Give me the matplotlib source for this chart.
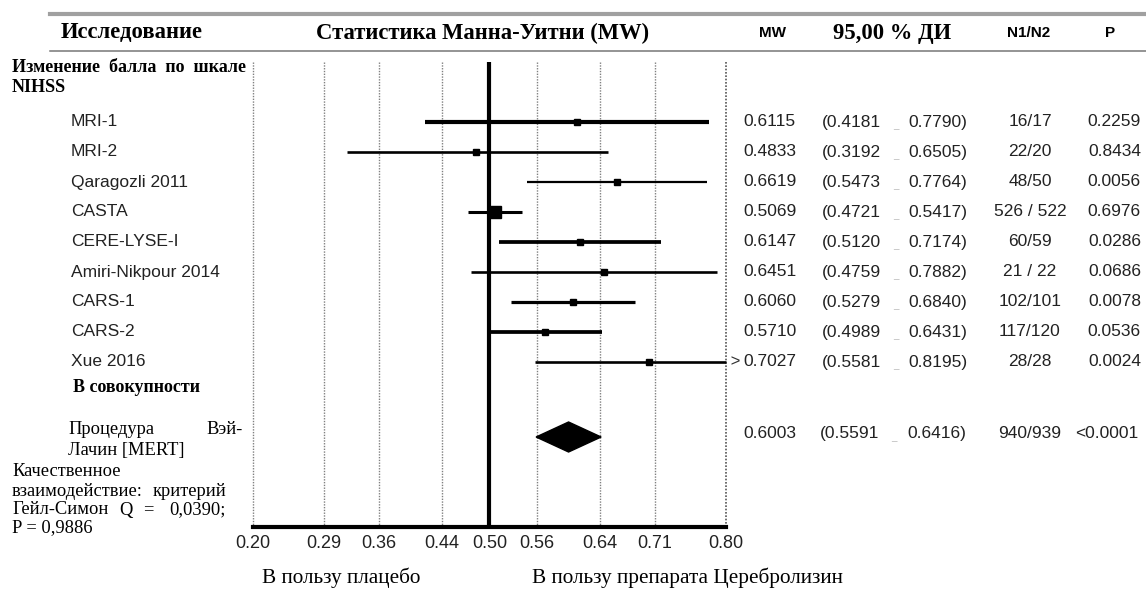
import matplotlib
matplotlib.use("Agg")
import matplotlib.pyplot as plt
from matplotlib import transforms
from matplotlib.patches import Polygon

# --- data ---
studies = ["MRI-1", "MRI-2", "Qaragozli 2011", "CASTA", "CERE-LYSE-I",
           "Amiri-Nikpour 2014", "CARS-1", "CARS-2", "Xue 2016"]
mw = [0.6115, 0.4833, 0.6619, 0.5069, 0.6147, 0.6451, 0.6060, 0.5710, 0.7027]
ci_low = [0.4181, 0.3192, 0.5473, 0.4721, 0.5120, 0.4759, 0.5279, 0.4989, 0.5581]
ci_high = [0.7790, 0.6505, 0.7764, 0.5417, 0.7174, 0.7882, 0.6840, 0.6431, 0.8195]
n1n2 = ["16/17", "22/20", "48/50", "526 / 522", "60/59", "21 / 22", "102/101", "117/120", "28/28"]
pvals = ["0.2259", "0.8434", "0.0056", "0.6976", "0.0286", "0.0686", "0.0078", "0.0536", "0.0024"]
# line width (weight) of each study line, in points
weights = [3.0, 1.9, 1.6, 2.2, 2.7, 1.9, 2.3, 2.7, 1.9]
marker_sizes = [4.5, 4.5, 4.5, 8, 4.5, 4.5, 4.5, 4.5, 4.5]

pooled_mw = 0.6003
pooled_low = 0.5591
pooled_high = 0.6416
pooled_n = "940/939"
pooled_p = "<0.0001"

xticks = [0.20, 0.29, 0.36, 0.44, 0.50, 0.56, 0.64, 0.71, 0.80]
xticklabels = ["0.20", "0.29", "0.36", "0.44", "0.50", "0.56", "0.64", "0.71", "0.80"]

SERIF = "Liberation Serif"
SANS = "Liberation Sans"

W, H = 1146, 592
fig = plt.figure(figsize=(W / 100, H / 100), dpi=100)

# background axes in pixel coordinates (for header, labels)
bg = fig.add_axes([0, 0, 1, 1])
bg.set_xlim(0, W)
bg.set_ylim(H, 0)
bg.axis("off")

# plot axes: x 0.2..0.8 over pixels 253..726, y rows
x0, x1, ytop, ybot = 253, 726, 62, 527
ax = fig.add_axes([x0 / W, (H - ybot) / H, (x1 - x0) / W, (ybot - ytop) / H])
ax.patch.set_alpha(0)
ax.set_xlim(0.2, 0.8)
ax.set_ylim(13.5, -2)
for s in ["top", "right", "left"]:
    ax.spines[s].set_visible(False)
ax.spines["bottom"].set_linewidth(3)
ax.spines["bottom"].set_zorder(6)
ax.set_yticks([])
ax.set_xticks(xticks)
ax.set_xticklabels(xticklabels, fontsize=13, fontfamily=SANS, color="#222222")
ax.tick_params(axis="x", length=0, pad=6)

# dotted grid lines at every tick (the last one a bit darker)
ax.vlines(xticks[:-1], -2, 13.5, colors="#808080", linestyles=(0, (1, 1)), linewidth=1.0,
          clip_on=False, zorder=1)
ax.vlines(xticks[-1:], -2, 13.5, colors="#555555", linestyles=(0, (1, 1)), linewidth=1.2,
          clip_on=False, zorder=1)

# reference line at 0.5
ax.axvline(0.5, color="black", linewidth=3, zorder=3)

rows = list(range(len(studies)))
for i in rows:
    hi = min(ci_high[i], 0.8)
    ax.plot([ci_low[i], hi], [i, i], color="black", linewidth=weights[i],
            solid_capstyle="butt", zorder=4, clip_on=False)
    ax.plot(mw[i], i, marker="s", color="black", markersize=marker_sizes[i], zorder=5)
    if ci_high[i] > 0.8:
        ax.text(0.8, i, " >", fontsize=12, fontfamily=SANS, va="center", ha="left",
                color="#333333", clip_on=False)

# pooled diamond
d_row = 10.5
diamond = Polygon([[pooled_low, d_row], [pooled_mw, d_row - 0.5],
                   [pooled_high, d_row], [pooled_mw, d_row + 0.5]],
                  closed=True, color="black", zorder=5)
ax.add_patch(diamond)

# --- header ---
bg.plot([50, W], [14, 14], color="#a0a0a0", linewidth=3)
bg.plot([50, W], [51, 51], color="#777777", linewidth=1.1)
bg.text(132, 33, "Исследование", fontsize=16.3, fontweight="bold", fontfamily=SERIF,
        ha="center", va="center")
bg.text(483, 33, "Статистика Манна-Уитни (MW)", fontsize=16.3, fontweight="bold",
        fontfamily=SERIF, ha="center", va="center")
bg.text(772, 33, "MW", fontsize=11, fontweight="bold", fontfamily=SANS, ha="center", va="center")
bg.text(892, 33, "95,00 % ДИ", fontsize=16.3, fontweight="bold", fontfamily=SERIF,
        ha="center", va="center")
bg.text(1029, 33, "N1/N2", fontsize=11, fontweight="bold", fontfamily=SANS, ha="center", va="center")
bg.text(1110, 33, "P", fontsize=11, fontweight="bold", fontfamily=SANS, ha="center", va="center")

bg.text(12, 68, "Изменение  балла  по  шкале", fontsize=13, fontweight="bold", fontfamily=SERIF,
        ha="left", va="center")
bg.text(12, 87, "NIHSS", fontsize=13, fontweight="bold", fontfamily=SERIF, ha="left", va="center")

# row-aligned texts: x in pixels, y in row units
tr = transforms.blended_transform_factory(bg.transData, ax.transData)
txt = dict(fontsize=12.5, fontfamily=SANS, va="center", transform=tr, color="#222222")
for i in rows:
    bg.text(71, i, studies[i], ha="left", **txt)
    bg.text(743, i, f"{mw[i]:.4f}", ha="left", **txt)
    bg.text(822, i, f"({ci_low[i]:.4f}", ha="left", **txt)
    bg.text(896, i + 0.12, "_", fontsize=7, fontfamily=SANS, ha="center", va="center",
            transform=tr, color="#bbbbbb")
    bg.text(908, i, f"{ci_high[i]:.4f})", ha="left", **txt)
    bg.text(1030, i, n1n2[i], ha="center", **txt)
    bg.text(1141, i, pvals[i], ha="right", **txt)

bg.text(73, 8.85, "В совокупности", fontsize=13, fontweight="bold", fontfamily=SERIF,
        ha="left", va="center", transform=tr)

p_row = 10.37
bg.text(743, p_row, f"{pooled_mw:.4f}", ha="left", **txt)
bg.text(820, p_row, f"({pooled_low:.4f}", ha="left", **txt)
bg.text(894, p_row + 0.12, "_", fontsize=7, fontfamily=SANS, ha="center", va="center",
        transform=tr, color="#bbbbbb")
bg.text(907, p_row, f"{pooled_high:.4f})", ha="left", **txt)
bg.text(1030, p_row, pooled_n, ha="center", **txt)
bg.text(1138, p_row, pooled_p, ha="right", **txt)

# --- left bottom notes ---
note = dict(fontsize=13.3, fontfamily=SERIF, va="center")
bg.text(68, 430, "Процедура", ha="left", **note)
bg.text(243, 430, "Вэй-", ha="right", **note)
bg.text(68, 450, "Лачин [MERT]", ha="left", **note)
bg.text(12, 472, "Качественное", ha="left", **note)
bg.text(12, 492, "взаимодействие:", ha="left", **note)
bg.text(226, 492, "критерий", ha="right", **note)
bg.text(12, 510, "Гейл-Симон", ha="left", **note)
bg.text(126, 510, "Q", ha="center", **note)
bg.text(148, 510, "=", ha="center", **note)
bg.text(226, 510, "0,0390;", ha="right", **note)
bg.text(12, 528, "P = 0,9886", ha="left", **note)

# --- bottom captions ---
bg.text(262, 578, "В пользу плацебо", fontsize=15.3, fontfamily=SERIF, ha="left", va="center")
bg.text(532, 578, "В пользу препарата Церебролизин", fontsize=15.3, fontfamily=SERIF,
        ha="left", va="center")

fig.savefig("out.png", dpi=100)
